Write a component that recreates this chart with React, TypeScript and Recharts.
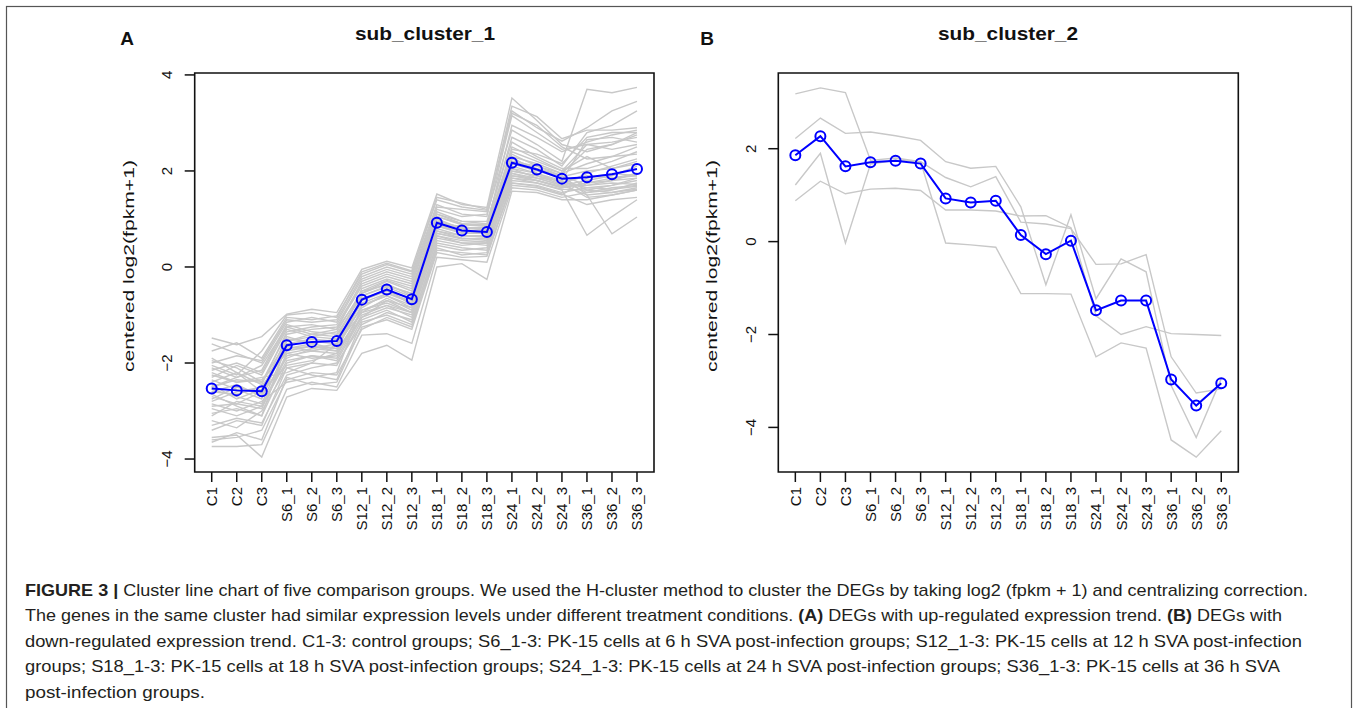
import React from 'react';
import { LineChart, Line, XAxis, YAxis, ReferenceArea } from 'recharts';

const categories = ['C1','C2','C3','S6_1','S6_2','S6_3','S12_1','S12_2','S12_3','S18_1','S18_2','S18_3','S24_1','S24_2','S24_3','S36_1','S36_2','S36_3'];
const xTicks = [0,1,2,3,4,5,6,7,8,9,10,11,12,13,14,15,16,17];
const yTicksA = [-4,-2,0,2,4];
const yTicksB = [-4,-2,0,2];
const yDomainA: [number, number] = [-4.27, 4.04];
const yDomainB: [number, number] = [-4.96, 3.63];
const xDomain: [number, number] = [-0.68, 17.68];

const meanA = [-2.53,-2.57,-2.59,-1.63,-1.56,-1.54,-0.68,-0.47,-0.67,0.92,0.76,0.73,2.17,2.03,1.84,1.87,1.93,2.04];
const meanB = [1.86,2.27,1.62,1.71,1.74,1.68,0.93,0.84,0.88,0.14,-0.27,0.02,-1.48,-1.27,-1.27,-2.97,-3.53,-3.05];

const grayLinesA: number[][] = [
  [-1.48,-1.62,-1.45,-0.98,-0.88,-0.95,-0.05,0.12,-0.02,1.52,1.30,1.24,3.52,3.05,2.55,2.40,2.55,2.75],
  [-1.75,-1.58,-1.90,-1.05,-1.10,-1.02,-0.15,0.05,-0.10,1.40,1.25,1.18,3.25,2.90,2.62,2.90,3.25,3.45],
  [-2.10,-2.30,-2.05,-1.25,-1.20,-1.30,-0.30,-0.10,-0.25,1.20,1.05,1.10,2.85,2.55,2.20,3.70,3.63,3.74],
  [-1.95,-2.10,-2.40,-1.40,-1.30,-1.25,-0.40,-0.20,-0.35,1.10,0.95,0.90,2.70,2.45,2.10,2.80,2.95,3.25],
  [-2.30,-2.05,-2.25,-1.30,-1.45,-1.35,-0.50,-0.28,-0.45,1.05,0.88,0.85,2.95,2.70,2.40,2.60,2.75,2.85],
  [-2.60,-2.45,-2.70,-1.55,-1.40,-1.45,-0.55,-0.35,-0.60,0.95,0.80,0.80,2.40,2.20,2.00,2.55,2.60,2.70],
  [-2.45,-2.75,-2.55,-1.70,-1.60,-1.50,-0.75,-0.55,-0.70,0.85,0.70,0.70,2.20,2.10,1.95,2.45,2.55,2.80],
  [-2.80,-2.60,-2.50,-1.75,-1.65,-1.70,-0.80,-0.60,-0.85,0.80,0.65,0.62,2.10,1.95,1.80,2.65,2.70,2.60],
  [-2.90,-2.85,-2.95,-1.85,-1.75,-1.80,-0.90,-0.70,-0.95,0.70,0.60,0.55,2.00,1.90,1.72,1.95,2.10,2.25],
  [-3.05,-2.95,-3.10,-2.00,-1.85,-1.90,-1.00,-0.80,-1.05,0.60,0.50,0.45,1.90,1.85,1.70,1.80,1.90,2.10],
  [-3.20,-3.35,-3.00,-2.10,-2.00,-2.05,-1.10,-0.90,-1.15,0.50,0.40,0.35,1.85,1.80,1.65,1.75,1.80,1.95],
  [-3.60,-3.55,-3.40,-2.35,-2.20,-2.25,-1.30,-1.05,-1.25,0.35,0.30,0.25,1.75,1.70,1.55,1.65,1.70,1.85],
  [-3.74,-3.74,-3.70,-2.55,-2.40,-2.50,-1.42,-1.39,-1.59,0.20,0.15,0.10,1.65,1.60,1.45,1.55,1.60,1.75],
  [-3.55,-3.50,-3.96,-2.71,-2.53,-2.57,-1.80,-1.63,-1.94,0.00,0.07,-0.26,1.58,1.55,1.40,1.40,1.50,1.60],
  [-2.20,-2.40,-2.30,-2.20,-2.00,-1.60,-0.70,-0.45,-0.80,0.90,0.85,0.75,2.30,1.95,1.75,1.90,1.85,1.90],
  [-2.50,-2.30,-2.15,-1.20,-1.35,-1.40,-0.60,-0.40,-0.55,1.00,0.70,0.72,2.50,2.25,2.00,2.30,2.05,2.20],
  [-2.65,-2.90,-3.10,-1.60,-1.50,-1.55,-0.65,-0.50,-0.65,0.90,0.75,0.78,2.25,2.05,1.90,1.70,1.80,1.85],
  [-2.35,-2.55,-2.75,-1.50,-1.55,-1.60,-0.85,-0.55,-0.75,1.00,0.80,0.68,2.15,2.00,1.85,1.60,1.70,1.80],
  [-2.75,-2.50,-2.65,-1.90,-1.70,-1.75,-0.95,-0.65,-0.90,0.75,0.65,0.65,2.05,1.85,1.80,1.55,1.65,1.70],
  [-2.55,-2.70,-2.85,-1.65,-1.75,-1.65,-0.45,-0.25,-0.40,0.95,0.82,0.82,2.35,2.10,1.90,1.50,1.55,1.65],
  [-1.90,-2.20,-2.60,-1.45,-1.60,-1.70,-0.70,-0.50,-0.75,0.85,0.72,0.70,2.05,1.95,1.75,1.45,1.50,1.60],
  [-3.30,-3.15,-3.25,-2.25,-2.10,-2.00,-1.20,-0.95,-1.10,0.45,0.35,0.40,1.80,1.75,1.60,0.66,1.05,1.40],
  [-2.85,-3.00,-2.80,-2.40,-2.30,-2.20,-0.80,-0.60,-0.80,0.65,0.50,0.50,1.95,1.85,1.70,1.50,0.69,1.04],
  [-2.40,-2.20,-2.45,-1.35,-1.25,-1.20,-0.35,-0.15,-0.30,1.15,0.95,0.95,2.60,2.30,2.05,2.05,2.20,2.40],
  [-2.00,-1.85,-1.95,-1.10,-1.15,-1.10,-0.20,0.00,-0.15,1.30,1.10,1.05,3.15,2.80,2.45,2.55,2.45,2.55],
  [-3.10,-2.80,-2.90,-1.95,-1.85,-1.95,-1.05,-0.85,-1.00,0.55,0.45,0.50,1.85,1.75,1.62,1.60,1.55,1.62],
  [-2.25,-2.40,-2.35,-1.80,-1.90,-1.85,-0.90,-0.75,-0.95,0.75,0.60,0.58,2.00,1.90,1.78,1.65,1.62,1.68],
  [-2.70,-2.85,-2.60,-2.05,-1.95,-1.80,-1.05,-0.70,-0.85,0.70,0.58,0.60,1.95,1.80,1.68,1.70,1.75,1.72],
  [-1.60,-1.80,-2.00,-1.15,-1.05,-1.15,-0.25,-0.05,-0.20,1.25,1.20,1.15,3.35,3.13,2.67,2.85,2.85,2.90],
  [-3.40,-3.20,-3.30,-2.10,-2.25,-2.35,-1.15,-1.00,-1.20,0.40,0.25,0.30,1.70,1.65,1.50,1.85,1.95,1.90],
  [-2.15,-2.00,-2.20,-1.25,-1.40,-1.30,-0.55,-0.30,-0.50,1.05,0.90,0.88,2.45,2.35,2.15,2.70,2.80,2.80],
  [-2.95,-3.10,-2.90,-1.80,-1.70,-1.60,-0.95,-0.80,-0.95,0.65,0.55,0.52,1.90,1.80,1.65,1.75,1.85,1.95],
  [-2.60,-2.65,-2.50,-1.70,-1.65,-1.75,-0.60,-0.42,-0.62,0.88,0.72,0.74,2.20,2.05,1.88,2.00,2.05,2.15],
  [-3.65,-3.45,-3.60,-2.30,-2.45,-2.40,-1.25,-1.10,-1.30,0.30,0.20,0.22,1.75,1.68,1.52,1.30,1.40,1.45],
  [-2.05,-2.25,-1.75,-1.00,-0.95,-1.05,-0.10,0.08,-0.08,1.45,1.33,1.20,3.20,2.95,2.50,2.25,2.30,2.35],
  [-2.50,-2.35,-2.40,-1.55,-1.45,-1.50,-0.50,-0.38,-0.55,1.10,0.90,0.85,2.30,2.15,1.95,2.15,2.30,2.50],
];

const grayLinesB: number[][] = [
  [3.18,3.31,3.21,1.75,1.80,1.72,1.38,1.18,1.40,0.42,0.38,0.28,-0.49,-0.48,-0.28,-2.48,-3.26,-3.17],
  [1.22,1.90,-0.03,1.67,1.75,1.72,-0.03,-0.07,-0.12,-1.12,-1.12,-1.13,-2.48,-2.18,-2.29,-4.27,-4.64,-4.07],
  [2.22,2.66,2.33,2.36,2.28,2.18,1.72,1.58,1.62,0.75,-0.93,0.58,-1.23,-0.37,-0.65,-3.10,-4.22,-2.95],
  [0.88,1.30,1.03,1.13,1.15,1.10,0.68,0.68,0.66,0.55,0.56,0.30,-1.60,-2.00,-1.83,-1.98,-2.00,-2.02],
];

const buildRows = (gray: number[][], mean: number[]) =>
  categories.map((c, i) => {
    const row: Record<string, number | string> = { x: i, name: c, mean: mean[i] };
    gray.forEach((g, j) => { row['g' + j] = g[i]; });
    return row;
  });

const rowsA = buildRows(grayLinesA, meanA);
const rowsB = buildRows(grayLinesB, meanB);

const FONT = '"Liberation Sans", Arial, Helvetica, sans-serif';

const XTick = (props: any) => {
  const { x, y, payload } = props;
  return (
    <text x={x} y={y} transform={`rotate(-90 ${x} ${y})`} textAnchor="end" dominantBaseline="central"
      fontSize={15} fontFamily={FONT} fill="#111">{categories[payload.value]}</text>
  );
};

const YTick = (props: any) => {
  const { x, y, payload } = props;
  const v = payload.value;
  const label = v < 0 ? '\u2212' + Math.abs(v) : String(v);
  return (
    <text x={x} y={y} transform={`rotate(-90 ${x} ${y})`} textAnchor="middle" dominantBaseline="central"
      fontSize={15} fontFamily={FONT} fill="#111">{label}</text>
  );
};

function Panel(props: { rows: any[]; grayCount: number; yDomain: [number, number]; yTicks: number[]; left: number; marginLeft: number; marginRight: number }) {
  const { rows, grayCount, yDomain, yTicks, left, marginLeft, marginRight } = props;
  const grayKeys = Array.from({ length: grayCount }, (_, j) => 'g' + j);
  return (
    <div style={{ position: 'absolute', left, top: 0 }}>
      <LineChart width={680} height={560} data={rows} margin={{ top: 73, right: marginRight, bottom: 28, left: marginLeft }}>
        <XAxis dataKey="x" type="number" domain={xDomain} ticks={xTicks} interval={0} allowDataOverflow
          axisLine={false} tickSize={10} tickMargin={5} height={60}
          tickLine={{ stroke: '#111', strokeWidth: 1.5 }} tick={<XTick />} />
        <YAxis type="number" domain={yDomain} ticks={yTicks} allowDataOverflow axisLine={false}
          tickSize={10} tickMargin={18} width={60}
          tickLine={{ stroke: '#111', strokeWidth: 1.5 }} tick={<YTick />} />
        {grayKeys.map((k) => (
          <Line key={k} dataKey={k} type="linear" stroke="#c8c8c8" strokeWidth={1.4} dot={false}
            isAnimationActive={false} activeDot={false} />
        ))}
        <Line dataKey="mean" type="linear" stroke="#0000ff" strokeWidth={2}
          dot={{ r: 5, fill: 'none', stroke: '#0000ff', strokeWidth: 2 }}
          isAnimationActive={false} activeDot={false} />
        <ReferenceArea x1={xDomain[0]} x2={xDomain[1]} y1={yDomain[0]} y2={yDomain[1]}
          fill="none" fillOpacity={0} stroke="#111" strokeWidth={1.6} ifOverflow="visible" />
      </LineChart>
    </div>
  );
}

export default function App() {
  return (
    <div style={{ position: 'absolute', left: 0, top: 0, width: 1360, height: 708, background: '#fff', overflow: 'hidden' }}>
      <Panel rows={rowsA} grayCount={grayLinesA.length} yDomain={yDomainA} yTicks={yTicksA} left={0} marginLeft={134.7} marginRight={26} />
      <Panel rows={rowsB} grayCount={grayLinesB.length} yDomain={yDomainB} yTicks={yTicksB} left={680} marginLeft={38.3} marginRight={121.7} />
      <svg width={1360} height={708} style={{ position: 'absolute', left: 0, top: 0, pointerEvents: 'none' }}>
        <rect x={6.5} y={6.5} width={1345} height={740} fill="none" stroke="#555" strokeWidth={1.2} />
        <text x={127} y={45} textAnchor="middle" fontSize={19} fontWeight="bold" fontFamily={FONT} fill="#111">A</text>
        <text x={707} y={45} textAnchor="middle" fontSize={19} fontWeight="bold" fontFamily={FONT} fill="#111">B</text>
        <text x={355} y={40} fontSize={18} fontWeight="bold" fontFamily={FONT} fill="#111" textLength={140} lengthAdjust="spacingAndGlyphs">sub_cluster_1</text>
        <text x={938} y={40} fontSize={18} fontWeight="bold" fontFamily={FONT} fill="#111" textLength={140} lengthAdjust="spacingAndGlyphs">sub_cluster_2</text>
        <text x={128} y={266} transform="rotate(-90 128 266)" textAnchor="middle" dominantBaseline="central" fontSize={15} fontFamily={FONT} fill="#111" textLength={212} lengthAdjust="spacingAndGlyphs">centered log2(fpkm+1)</text>
        <text x={711} y={266} transform="rotate(-90 711 266)" textAnchor="middle" dominantBaseline="central" fontSize={15} fontFamily={FONT} fill="#111" textLength={212} lengthAdjust="spacingAndGlyphs">centered log2(fpkm+1)</text>
        <g fontFamily={FONT} fontSize={17} fill="#231f20">
          <text x={25} y={595.5} textLength={1283} lengthAdjust="spacingAndGlyphs"><tspan fontWeight="bold">FIGURE 3 |</tspan> Cluster line chart of five comparison groups. We used the H-cluster method to cluster the DEGs by taking log2 (fpkm + 1) and centralizing correction.</text>
          <text x={25} y={621} textLength={1257} lengthAdjust="spacingAndGlyphs">The genes in the same cluster had similar expression levels under different treatment conditions. <tspan fontWeight="bold">(A)</tspan> DEGs with up-regulated expression trend. <tspan fontWeight="bold">(B)</tspan> DEGs with</text>
          <text x={25} y={646.5} textLength={1277} lengthAdjust="spacingAndGlyphs">down-regulated expression trend. C1-3: control groups; S6_1-3: PK-15 cells at 6 h SVA post-infection groups; S12_1-3: PK-15 cells at 12 h SVA post-infection</text>
          <text x={25} y={672} textLength={1255} lengthAdjust="spacingAndGlyphs">groups; S18_1-3: PK-15 cells at 18 h SVA post-infection groups; S24_1-3: PK-15 cells at 24 h SVA post-infection groups; S36_1-3: PK-15 cells at 36 h SVA</text>
          <text x={25} y={697.5} textLength={180} lengthAdjust="spacingAndGlyphs">post-infection groups.</text>
        </g>
      </svg>
    </div>
  );
}
